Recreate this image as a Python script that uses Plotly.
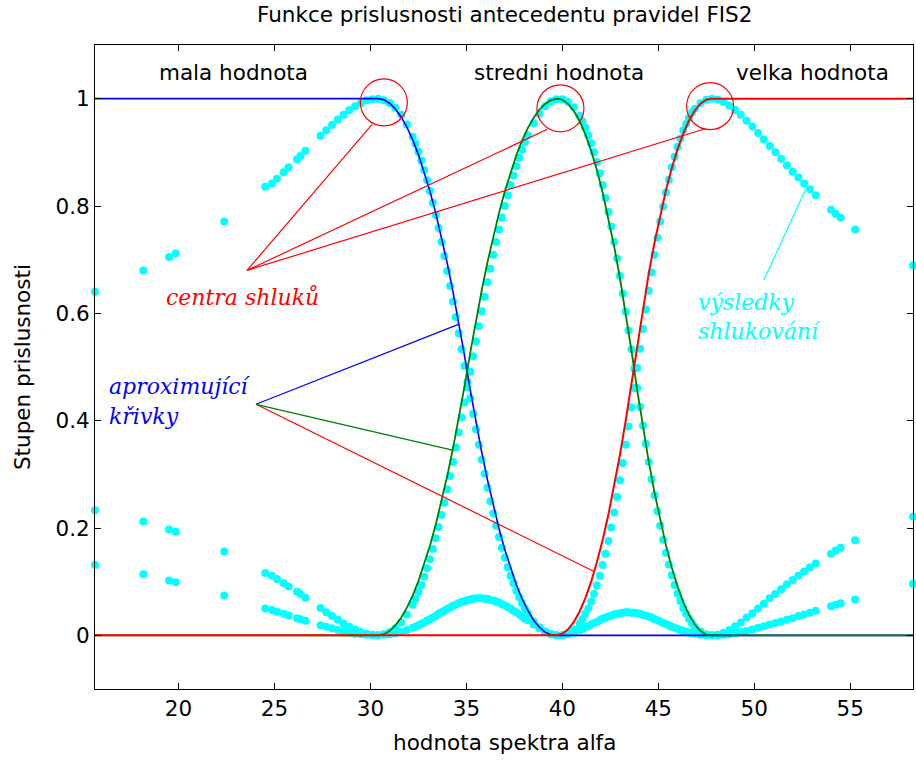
import plotly.graph_objects as go

# ---------------- data: clustering results (memberships of the 3 clusters) ----------------
x_data = [15.65, 18.17, 19.51, 19.86, 22.38, 24.52, 24.87, 25.13, 25.48, 25.74, 26.18, 26.35, 26.61,
          27.4, 27.7, 28.0, 28.3, 28.6, 28.9, 29.2, 29.5, 29.8, 30.1, 30.4, 30.7, 31.0, 31.3, 31.6, 31.9,
          32.2, 32.5, 32.8, 33.1, 33.4, 33.7, 34.0, 34.3, 34.6, 34.9, 35.2, 35.5, 35.8, 36.1, 36.4, 36.7,
          37.0, 37.3, 37.6, 37.9, 38.2, 38.5, 38.8, 39.1, 39.4, 39.7, 40.0, 40.3, 40.6, 40.9, 41.2, 41.5,
          41.8, 42.1, 42.4, 42.7, 43.0, 43.3, 43.6, 43.9, 44.2, 44.5, 44.8, 45.1, 45.4, 45.7, 46.0, 46.3,
          46.6, 46.9, 47.2, 47.5, 47.8, 48.1, 48.4, 48.7, 49.0, 49.3, 49.6, 49.9, 50.2, 50.5, 50.8, 51.1,
          51.4, 51.7, 52.0, 52.3, 52.6, 52.9, 53.2,
          54.0, 54.25, 54.5, 55.25, 58.27,
          32.35, 32.65, 32.95, 33.25, 33.55, 33.85, 34.15, 34.45, 34.75, 35.05, 35.35, 35.65, 35.95,
          36.25, 36.55, 36.85, 37.15, 37.45, 37.75, 38.05,
          41.05, 41.35, 41.65, 41.95, 42.25, 42.55, 42.85, 43.15, 43.45, 43.75, 44.05, 44.35, 44.65,
          44.95, 45.25, 45.55, 45.85, 46.15, 46.45, 46.75]

u_mala = [0.640, 0.680, 0.705, 0.712, 0.771, 0.836, 0.842, 0.851, 0.863, 0.872, 0.887, 0.893, 0.903,
          0.931, 0.941, 0.951, 0.961, 0.970, 0.979, 0.986, 0.992, 0.997, 0.999, 1.000, 0.997, 0.992, 0.983,
          0.970, 0.952, 0.929, 0.901, 0.867, 0.828, 0.783, 0.733, 0.679, 0.622, 0.563, 0.502, 0.442, 0.384,
          0.327, 0.275, 0.227, 0.183, 0.145, 0.111, 0.083, 0.060, 0.041, 0.026, 0.015, 0.007, 0.002, 0.000,
          0.000, 0.002, 0.005, 0.010, 0.015, 0.020, 0.025, 0.031, 0.035, 0.039, 0.041, 0.043, 0.042, 0.041,
          0.038, 0.035, 0.030, 0.026, 0.021, 0.016, 0.012, 0.008, 0.005, 0.003, 0.001, 0.000, 0.000, 0.000,
          0.001, 0.002, 0.004, 0.006, 0.008, 0.011, 0.014, 0.017, 0.020, 0.023, 0.026, 0.029, 0.032, 0.036,
          0.039, 0.042, 0.046,
          0.054, 0.057, 0.060, 0.067, 0.096,
          0.916, 0.885, 0.848, 0.806, 0.759, 0.707, 0.651, 0.593, 0.533, 0.472, 0.413, 0.355, 0.301,
          0.250, 0.204, 0.163, 0.127, 0.097, 0.071, 0.050,
          0.012, 0.017, 0.023, 0.028, 0.033, 0.037, 0.040, 0.042, 0.043, 0.042, 0.040, 0.037, 0.033,
          0.028, 0.023, 0.019, 0.014, 0.010, 0.007, 0.004]

u_stredni = [0.233, 0.212, 0.197, 0.193, 0.156, 0.116, 0.111, 0.105, 0.097, 0.091, 0.081, 0.077, 0.070,
             0.051, 0.043, 0.036, 0.029, 0.022, 0.016, 0.011, 0.006, 0.003, 0.001, 0.000, 0.002, 0.006, 0.013,
             0.024, 0.039, 0.057, 0.081, 0.109, 0.142, 0.181, 0.224, 0.272, 0.323, 0.378, 0.434, 0.491, 0.548,
             0.604, 0.658, 0.709, 0.756, 0.800, 0.839, 0.874, 0.905, 0.932, 0.954, 0.972, 0.986, 0.995, 0.999,
             0.999, 0.994, 0.984, 0.968, 0.946, 0.917, 0.882, 0.839, 0.789, 0.733, 0.670, 0.603, 0.533, 0.461,
             0.391, 0.323, 0.261, 0.204, 0.154, 0.112, 0.078, 0.051, 0.031, 0.016, 0.007, 0.002, 0.000, 0.001,
             0.005, 0.010, 0.017, 0.024, 0.033, 0.041, 0.050, 0.059, 0.069, 0.077, 0.086, 0.095, 0.103, 0.111,
             0.119, 0.127, 0.134,
             0.152, 0.158, 0.163, 0.177, 0.221,
             0.068, 0.094, 0.125, 0.161, 0.202, 0.247, 0.297, 0.350, 0.406, 0.462, 0.520, 0.576, 0.631,
             0.683, 0.733, 0.778, 0.820, 0.857, 0.890, 0.919,
             0.958, 0.932, 0.900, 0.861, 0.815, 0.762, 0.702, 0.637, 0.568, 0.497, 0.426, 0.357, 0.291,
             0.231, 0.178, 0.132, 0.094, 0.064, 0.040, 0.023]

u_velka = [0.131, 0.114, 0.102, 0.099, 0.074, 0.050, 0.047, 0.044, 0.040, 0.037, 0.032, 0.030, 0.027,
           0.019, 0.016, 0.013, 0.010, 0.008, 0.005, 0.003, 0.002, 0.001, 0.000, 0.000, 0.001, 0.002, 0.004,
           0.006, 0.010, 0.014, 0.019, 0.024, 0.030, 0.036, 0.043, 0.049, 0.055, 0.060, 0.064, 0.067, 0.069,
           0.069, 0.068, 0.065, 0.061, 0.056, 0.050, 0.043, 0.035, 0.028, 0.020, 0.013, 0.007, 0.003, 0.000,
           0.000, 0.004, 0.011, 0.022, 0.040, 0.063, 0.093, 0.131, 0.176, 0.229, 0.289, 0.355, 0.425, 0.498,
           0.571, 0.642, 0.709, 0.771, 0.825, 0.872, 0.910, 0.941, 0.964, 0.981, 0.992, 0.998, 1.000, 0.998,
           0.994, 0.987, 0.979, 0.970, 0.959, 0.948, 0.936, 0.924, 0.912, 0.900, 0.888, 0.876, 0.864, 0.853,
           0.842, 0.831, 0.820,
           0.793, 0.785, 0.778, 0.756, 0.689,
           0.016, 0.021, 0.027, 0.033, 0.040, 0.046, 0.052, 0.057, 0.062, 0.066, 0.068, 0.069, 0.068,
           0.066, 0.063, 0.058, 0.053, 0.046, 0.039, 0.031,
           0.030, 0.050, 0.077, 0.111, 0.152, 0.201, 0.258, 0.321, 0.389, 0.461, 0.534, 0.607, 0.676,
           0.741, 0.799, 0.849, 0.892, 0.926, 0.953, 0.974]

# ---------------- approximating membership curves ----------------
x_mf_mala = [15.65, 30.4, 30.7, 31.0, 31.3, 31.6, 31.9, 32.2, 32.5, 32.8, 33.1, 33.4, 33.7, 34.0, 34.3,
             34.6, 34.9, 35.2, 35.5, 35.8, 36.1, 36.4, 36.7, 37.0, 37.3, 37.6, 37.9, 38.2, 38.5, 38.8,
             39.1, 39.4, 39.6, 58.27]
y_mf_mala = [1.0, 1.0, 0.9979, 0.9915, 0.9809, 0.9660, 0.9468, 0.9234, 0.8958, 0.8639, 0.8277, 0.7873,
             0.7427, 0.6938, 0.6406, 0.5832, 0.5216, 0.4575, 0.3973, 0.3411, 0.2894, 0.2419, 0.1987,
             0.1597, 0.1250, 0.0945, 0.0683, 0.0463, 0.0286, 0.0151, 0.0059, 0.0009, 0.0, 0.0]

x_mf_stredni = [15.65, 30.4, 30.7, 31.0, 31.3, 31.6, 31.9, 32.2, 32.5, 32.8, 33.1, 33.4, 33.7, 34.0, 34.3,
                34.6, 34.9, 35.2, 35.5, 35.8, 36.1, 36.4, 36.7, 37.0, 37.3, 37.6, 37.9, 38.2, 38.5, 38.8,
                39.1, 39.4, 39.75, 40.0, 40.3, 40.6, 40.9, 41.2, 41.5, 41.8, 42.1, 42.4, 42.7, 43.0, 43.3,
                43.6, 43.9, 44.2, 44.5, 44.8, 45.1, 45.4, 45.7, 46.0, 46.3, 46.6, 46.9, 47.2, 47.5, 47.7,
                58.27]
y_mf_stredni = [0.0, 0.0, 0.0021, 0.0082, 0.0185, 0.0329, 0.0515, 0.0741, 0.1009, 0.1318, 0.1668, 0.2059,
                0.2491, 0.2965, 0.3480, 0.4036, 0.4633, 0.5264, 0.5869, 0.6430, 0.6952, 0.7432, 0.7872,
                0.8270, 0.8627, 0.8943, 0.9217, 0.9450, 0.9642, 0.9794, 0.9903, 0.9972, 1.0, 0.9980,
                0.9904, 0.9771, 0.9581, 0.9335, 0.9031, 0.8670, 0.8252, 0.7778, 0.7246, 0.6658, 0.6013,
                0.5309, 0.4570, 0.3877, 0.3240, 0.2662, 0.2139, 0.1674, 0.1266, 0.0914, 0.0620, 0.0383,
                0.0202, 0.0079, 0.0013, 0.0, 0.0]

x_mf_velka = [15.65, 39.7, 40.0, 40.3, 40.6, 40.9, 41.2, 41.5, 41.8, 42.1, 42.4, 42.7, 43.0, 43.3, 43.6,
              43.9, 44.2, 44.5, 44.8, 45.1, 45.4, 45.7, 46.0, 46.3, 46.6, 46.9, 47.2, 47.5, 47.75, 58.27]
y_mf_velka = [0.0, 0.0, 0.0028, 0.0111, 0.0250, 0.0445, 0.0694, 0.1000, 0.1361, 0.1777, 0.2250, 0.2778,
              0.3360, 0.4000, 0.4695, 0.5425, 0.6110, 0.6741, 0.7314, 0.7833, 0.8296, 0.8703, 0.9055,
              0.9351, 0.9592, 0.9777, 0.9907, 0.9981, 1.0, 1.0]

# ---------------- cluster centres (circled) ----------------
centre_x = [30.70, 39.90, 47.70]
centre_y = [0.993, 0.982, 0.986]

# ---------------- annotation pointer lines ----------------
ptr_red_x = [23.57, 30.09, None, 23.57, 39.22, None, 23.57, 47.45, None, 24.04, 41.60]
ptr_red_y = [0.680, 0.952, None, 0.680, 0.943, None, 0.680, 0.944, None, 0.4305, 0.120]
ptr_blue_x = [24.04, 34.62]
ptr_blue_y = [0.4305, 0.580]
ptr_green_x = [24.04, 34.28]
ptr_green_y = [0.4305, 0.345]
ptr_cyan_x = [50.50, 52.68]
ptr_cyan_y = [0.662, 0.831]

x_ticks = [20, 25, 30, 35, 40, 45, 50, 55]
y_ticks = [0, 0.2, 0.4, 0.6, 0.8, 1]
y_tick_text = ["0", "0.2", "0.4", "0.6", "0.8", "1"]

SANS = "DejaVu Sans"
SERIF = "DejaVu Serif"
FS = 21.5

fig = go.Figure()

for u in (u_mala, u_stredni, u_velka):
    fig.add_trace(go.Scatter(x=x_data, y=u, mode="markers",
                             marker=dict(color="#00FFFF", size=8, line=dict(width=0)),
                             cliponaxis=False, hoverinfo="skip"))

fig.add_trace(go.Scatter(x=x_mf_mala, y=y_mf_mala, mode="lines",
                         line=dict(color="#0000FF", width=1.6)))
fig.add_trace(go.Scatter(x=x_mf_stredni, y=y_mf_stredni, mode="lines",
                         line=dict(color="#008000", width=1.8)))
fig.add_trace(go.Scatter(x=x_mf_velka, y=y_mf_velka, mode="lines",
                         line=dict(color="#FF0000", width=2.0)))

fig.add_trace(go.Scatter(x=centre_x, y=centre_y, mode="markers",
                         marker=dict(symbol="circle-open", size=47, color="#FF0000",
                                     line=dict(width=1.2, color="#FF0000"))))

fig.add_trace(go.Scatter(x=ptr_red_x, y=ptr_red_y, mode="lines",
                         line=dict(color="#FF0000", width=1.2)))
fig.add_trace(go.Scatter(x=ptr_blue_x, y=ptr_blue_y, mode="lines",
                         line=dict(color="#0000FF", width=1.2)))
fig.add_trace(go.Scatter(x=ptr_green_x, y=ptr_green_y, mode="lines",
                         line=dict(color="#008000", width=1.2)))
fig.add_trace(go.Scatter(x=ptr_cyan_x, y=ptr_cyan_y, mode="lines",
                         line=dict(color="#00FFFF", width=1.2)))

annotations = [
    dict(text="Funkce prislusnosti antecedentu pravidel FIS2", xref="paper", yref="paper",
         x=0.5, y=1.048, xanchor="center", yanchor="middle", showarrow=False,
         font=dict(family=SANS, size=FS, color="black")),
    dict(text="hodnota spektra alfa", xref="paper", yref="paper",
         x=0.5, y=-0.0823, xanchor="center", yanchor="middle", showarrow=False,
         font=dict(family=SANS, size=FS, color="black")),
    dict(text="Stupen prislusnosti", xref="paper", yref="paper",
         x=-0.0892, y=0.5, xanchor="center", yanchor="middle", textangle=-90, showarrow=False,
         font=dict(family=SANS, size=FS, color="black")),
    dict(text="mala hodnota", x=18.89, y=1.049, xanchor="left", yanchor="middle", showarrow=False,
         font=dict(family=SANS, size=FS, color="black")),
    dict(text="stredni hodnota", x=35.30, y=1.049, xanchor="left", yanchor="middle", showarrow=False,
         font=dict(family=SANS, size=FS, color="black")),
    dict(text="velka hodnota", x=48.95, y=1.049, xanchor="left", yanchor="middle", showarrow=False,
         font=dict(family=SANS, size=FS, color="black")),
    dict(text="<i>centra shluků</i>", x=23.31, y=0.630, xanchor="center", yanchor="middle",
         showarrow=False, font=dict(family=SERIF, size=22, color="#FF0000")),
    dict(text="<i>aproximující</i>", x=16.27, y=0.463, xanchor="left", yanchor="middle",
         showarrow=False, font=dict(family=SERIF, size=22, color="#0000FF")),
    dict(text="<i>křivky</i>", x=16.27, y=0.407, xanchor="left", yanchor="middle",
         showarrow=False, font=dict(family=SERIF, size=22, color="#0000FF")),
    dict(text="<i>výsledky</i>", x=46.95, y=0.620, xanchor="left", yanchor="middle",
         showarrow=False, font=dict(family=SERIF, size=22, color="#00FFFF")),
    dict(text="<i>shlukování</i>", x=46.95, y=0.566, xanchor="left", yanchor="middle",
         showarrow=False, font=dict(family=SERIF, size=22, color="#00FFFF")),
]

fig.update_layout(
    width=916, height=762,
    margin=dict(l=95, r=3, t=45, b=73),
    paper_bgcolor="white", plot_bgcolor="white",
    showlegend=False,
    annotations=annotations,
    xaxis=dict(range=[15.65, 58.27], tickvals=x_ticks, ticks="inside", ticklen=6,
               tickcolor="black", showline=True, linecolor="black", linewidth=1,
               mirror="ticks", showgrid=False, zeroline=False,
               tickfont=dict(family=SANS, size=FS, color="black")),
    yaxis=dict(range=[-0.1, 1.1], tickvals=y_ticks, ticktext=y_tick_text, ticks="inside",
               ticklen=6, tickcolor="black", showline=True, linecolor="black", linewidth=1,
               mirror="ticks", showgrid=False, zeroline=False,
               tickfont=dict(family=SANS, size=FS, color="black")),
)

fig.write_html("out.html")
